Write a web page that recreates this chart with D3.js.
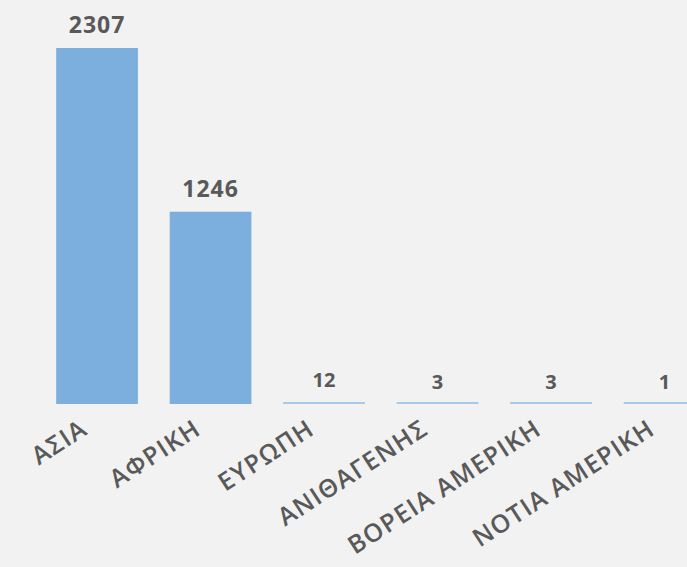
<!DOCTYPE html>
<html>
<head>
<meta charset="utf-8">
<script src="https://cdn.jsdelivr.net/npm/d3@7"></script>
<style>
  html, body { margin: 0; padding: 0; background: #f2f2f2; }
  svg { display: block; }
</style>
</head>
<body>
<div id="plot"></div>
<script>
var width = 687;
var height = 567;

// data
var regions = ["ΑΣΙΑ", "ΑΦΡΙΚΗ", "ΕΥΡΩΠΗ", "ΑΝΙΘΑΓΕΝΗΣ", "ΒΟΡΕΙΑ ΑΜΕΡΙΚΗ", "ΝΟΤΙΑ ΑΜΕΡΙΚΗ"];
var counts  = [2307, 1246, 12, 3, 3, 1];

var baseY = 404;
var topY = 48;

var svg = d3.select("#plot")
    .append("svg")
    .attr("width", width)
    .attr("height", height);

svg.append("rect")
    .attr("width", width)
    .attr("height", height)
    .attr("fill", "#f2f2f2");

// last bar runs off the right edge, like the original
var x = d3.scaleBand()
    .domain(regions)
    .range([40.3, 40.3 + 6 * 113.5])
    .paddingInner(0.28)
    .paddingOuter(0.14);

var y = d3.scaleLinear()
    .domain([0, 2307])
    .range([baseY, topY]);

svg.selectAll("rect.bar")
    .data(regions)
    .enter()
    .append("rect")
    .attr("class", "bar")
    .attr("x", function(d) { return x(d); })
    .attr("y", function(d, i) { return Math.min(y(counts[i]), baseY - 2); })
    .attr("width", x.bandwidth())
    .attr("height", function(d, i) { return Math.max(baseY - y(counts[i]), 2); })
    .attr("fill", function(d, i) { return counts[i] < 50 ? "#a9c9ea" : "#7cafdd"; });

// value labels
svg.selectAll("text.val")
    .data(regions)
    .enter()
    .append("text")
    .attr("class", "val")
    .text(function(d, i) { return counts[i]; })
    .attr("x", function(d) { return x(d) + x.bandwidth() / 2; })
    .attr("y", function(d, i) { return y(counts[i]) - 15; })
    .attr("text-anchor", "middle")
    .attr("font-family", "'Open Sans', sans-serif")
    .attr("font-weight", 700)
    .attr("font-size", function(d, i) { return counts[i] < 100 ? "20px" : "23px"; })
    .attr("letter-spacing", function(d, i) { return counts[i] < 100 ? "0px" : "1px"; })
    .attr("fill", "#595959");

// rotated category labels
svg.selectAll("text.cat")
    .data(regions)
    .enter()
    .append("text")
    .attr("class", "cat")
    .text(function(d) { return d; })
    .attr("transform", function(d) {
        var cx = x(d) + x.bandwidth() / 2 - 8;
        return "translate(" + cx + "," + 433 + ") rotate(-33)";
    })
    .attr("text-anchor", "end")
    .attr("font-family", "'Open Sans', sans-serif")
    .attr("font-weight", 600)
    .attr("font-size", "25px")
    .attr("letter-spacing", "1.2px")
    .attr("fill", "#595959");
</script>
</body>
</html>
